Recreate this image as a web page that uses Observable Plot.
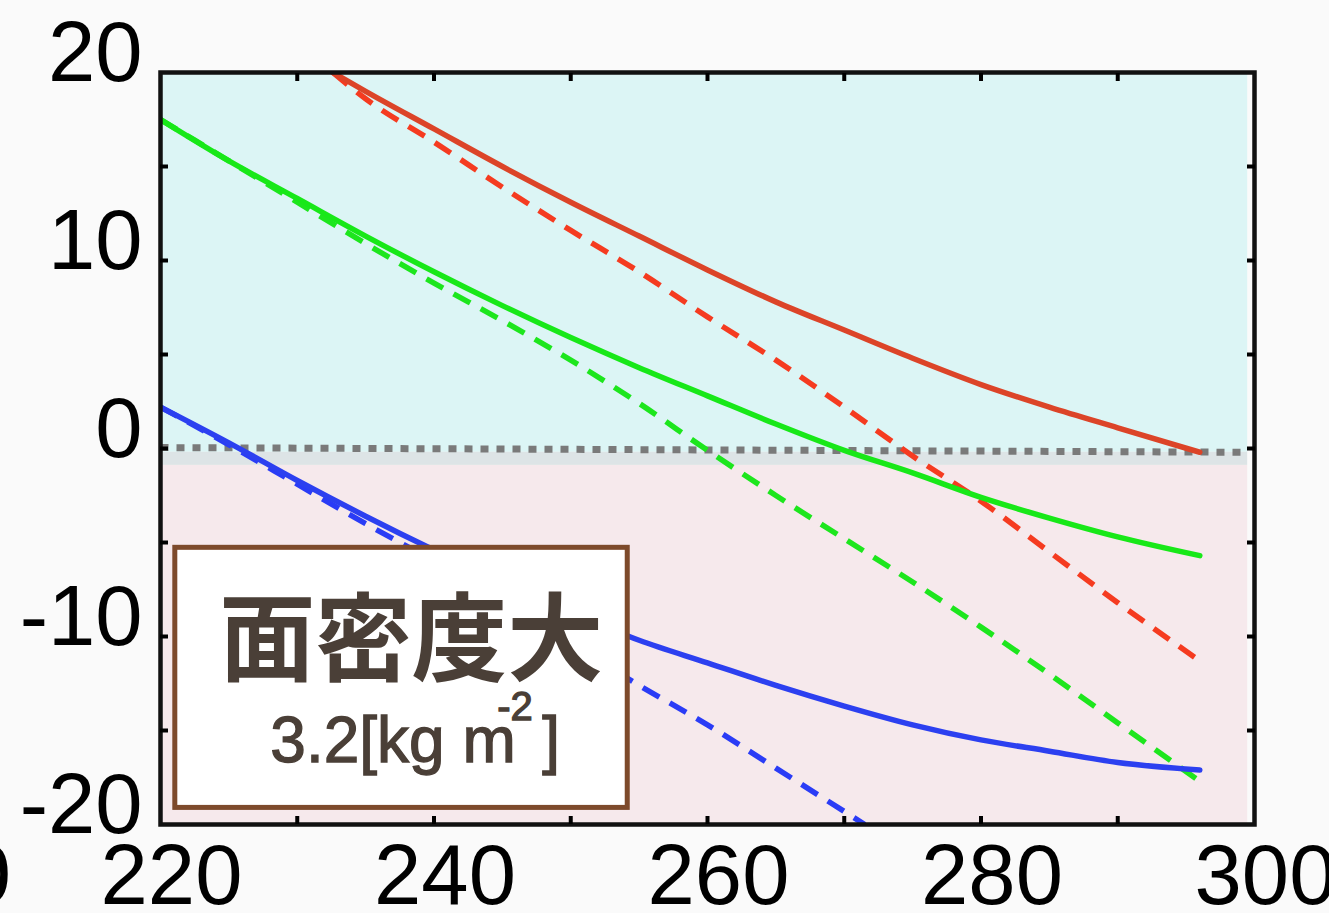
<!DOCTYPE html>
<html><head><meta charset="utf-8">
<script src="https://cdn.jsdelivr.net/npm/d3@7"></script>
<script src="https://cdn.jsdelivr.net/npm/@observablehq/plot@0.6"></script>
<style>
html,body{margin:0;padding:0;background:#fafafa;}
#chart{position:relative;width:1329px;height:913px;overflow:hidden;}
</style></head><body><div id="chart"></div>
<script>
// ---- ticks ----
const xLabelTicks = [220, 240, 260, 280, 300];
const xMinorTicks = [230, 240, 250, 260, 270, 280, 290];
const yLabelTicks = [-20, -10, 0, 10, 20];
const yMinorTicks = [-15, -10, -5, 0, 5, 10, 15];

// ---- background regions (y ranges) ----
const regionNames = ["positive", "overlap", "negative"];
const regionTop = [20, -0.2, -0.9];
const regionBottom = [-0.2, -0.9, -20];
const regionX = [220, 299.5];

// ---- zero reference (dotted) ----
const zeroX = [220, 299.5];
const zeroY = [0.05, -0.2];

// ---- series ----
const redSolidX = [232.6, 235, 240, 245, 250, 255, 260, 265, 270, 275, 280, 285, 290, 296];
const redSolidY = [20, 19.0, 17.0, 15.0, 13.1, 11.3, 9.5, 7.8, 6.3, 4.8, 3.4, 2.2, 1.1, -0.2];

const redDashX = [232.6, 235, 240, 245, 250, 255, 260, 265, 270, 275, 280, 285, 290, 296];
const redDashY = [20, 18.6, 16.3, 13.9, 11.6, 9.4, 7.0, 4.7, 2.2, -0.4, -2.8, -5.5, -8.2, -11.3];

const greenSolidX = [220, 225, 230, 235, 240, 245, 250, 255, 260, 265, 270, 275, 280, 285, 290, 296];
const greenSolidY = [17.5, 15.3, 13.3, 11.3, 9.4, 7.6, 5.9, 4.3, 2.8, 1.3, -0.1, -1.3, -2.6, -3.7, -4.7, -5.7];

const greenDashX = [220, 225, 230, 235, 240, 245, 250, 255, 260, 265, 270, 275, 280, 285, 290, 296];
const greenDashY = [17.5, 15.3, 13.1, 10.9, 8.8, 6.8, 4.7, 2.4, -0.1, -2.5, -4.8, -7.1, -9.5, -12.0, -14.6, -17.7];

const blueSolidX = [220, 225, 230, 235, 240, 245, 250, 255, 260, 265, 270, 275, 280, 285, 290, 296];
const blueSolidY = [2.2, 0.3, -1.7, -3.6, -5.4, -7.1, -8.7, -10.2, -11.4, -12.6, -13.7, -14.7, -15.5, -16.1, -16.7, -17.1];

const blueDashX = [220, 225, 230, 235, 240, 245, 250, 255, 260, 265, 271.5];
const blueDashY = [2.2, 0.2, -1.9, -4.0, -6.0, -8.2, -10.4, -12.6, -14.7, -17.0, -20];

// ---- annotation ----
const boxTitle = "面密度大";
const boxValue = "3.2[kg m";
const boxSup = "-2";
const boxClose = "]";
const boxX = [220.9, 254.35];
const boxY = [-5.15, -19.25];

const zip = (xs, ys) => xs.map((x, i) => ({x, y: ys[i]}));
const regions = regionNames.map((n, i) => ({name: n, x1: regionX[0], x2: regionX[1], y1: regionTop[i], y2: regionBottom[i]}));

const lineOpts = {x: "x", y: "y", strokeWidth: 5.5, clip: true, curve: "monotone-x"};
const dashOpts = {...lineOpts, strokeDasharray: "19,12", strokeLinecap: "butt"};

const plot = Plot.plot({
  width: 1329, height: 913,
  marginLeft: 160, marginRight: 75, marginTop: 72, marginBottom: 89,
  style: {background: "#fafafa", fontFamily: "'Liberation Sans', Arial, Helvetica, sans-serif", color: "#000", overflow: "hidden"},
  x: {domain: [220, 300], label: null},
  y: {domain: [-20, 20], label: null},
  marks: [
    Plot.rect(regions.filter(d => d.name === "positive"), {x1: "x1", x2: "x2", y1: "y1", y2: "y2", fill: "#dcf5f5"}),
    Plot.rect(regions.filter(d => d.name === "overlap"), {x1: "x1", x2: "x2", y1: "y1", y2: "y2", fill: "#dde4e6"}),
    Plot.rect(regions.filter(d => d.name === "negative"), {x1: "x1", x2: "x2", y1: "y1", y2: "y2", fill: "#f6e9ec"}),
    Plot.line(zip(zeroX, zeroY), {x: "x", y: "y", stroke: "#7a7a7a", strokeWidth: 7, strokeDasharray: "8,8", strokeLinecap: "butt"}),
    Plot.line(zip(redDashX, redDashY), {...dashOpts, stroke: "#f53b20"}),
    Plot.line(zip(redSolidX, redSolidY), {...lineOpts, stroke: "#dc4428"}),
    Plot.line(zip(greenDashX, greenDashY), {...dashOpts, stroke: "#1de61d"}),
    Plot.line(zip(greenSolidX, greenSolidY), {...lineOpts, stroke: "#18e818"}),
    Plot.line(zip(blueDashX, blueDashY), {...dashOpts, stroke: "#2a3cf6"}),
    Plot.line(zip(blueSolidX, blueSolidY), {...lineOpts, stroke: "#2c40f0"}),
    Plot.frame({stroke: "#111", strokeWidth: 4.5}),
    Plot.axisY(yMinorTicks, {anchor: "left", tickSize: 8, dx: 8, strokeWidth: 4, tickFormat: () => ""}),
    Plot.axisY(yMinorTicks, {anchor: "right", tickSize: 8, dx: -8, strokeWidth: 4, tickFormat: () => ""}),
    Plot.axisX(xMinorTicks, {anchor: "bottom", tickSize: 8, dy: -8, strokeWidth: 4, tickFormat: () => ""}),
    Plot.axisX(xMinorTicks, {anchor: "top", tickSize: 8, dy: 8, strokeWidth: 4, tickFormat: () => ""}),
    Plot.axisY(yLabelTicks, {anchor: "left", tickSize: 0, tickPadding: 18, dy: -19, fontSize: 85, tickFormat: d => String(d)}),
    Plot.axisX(xLabelTicks, {anchor: "bottom", tickSize: 0, tickPadding: 19, dx: 11, fontSize: 85, tickFormat: d => String(d)})
  ]
});

// annotation box drawn with the plot's own scales
const sx = plot.scale("x"), sy = plot.scale("y");
const L = sx.apply(boxX[0]), R = sx.apply(boxX[1]);
const T = sy.apply(boxY[0]), B = sy.apply(boxY[1]);
const bw = 5;
const g = d3.select(plot).append("g");
g.append("rect")
  .attr("x", L + bw / 2).attr("y", T + bw / 2)
  .attr("width", R - L - bw).attr("height", B - T - bw)
  .attr("fill", "#ffffff").attr("stroke", "#7d4a2b").attr("stroke-width", bw);
g.append("text")
  .attr("x", L + 239).attr("y", T + 87)
  .attr("text-anchor", "middle").attr("dominant-baseline", "central")
  .attr("font-family", "'Noto Sans CJK JP', 'Noto Sans CJK SC', sans-serif")
  .attr("font-weight", 700).attr("font-size", 96).attr("fill", "#4a3f37")
  .text(boxTitle);
const t2 = g.append("text")
  .attr("text-anchor", "start")
  .attr("font-family", "'Liberation Sans', Arial, Helvetica, sans-serif")
  .attr("fill", "#4a3f37").attr("stroke", "#4a3f37").attr("stroke-width", 1.3);
t2.append("tspan").attr("x", L + 98).attr("y", T + 217).attr("font-size", 64).text(boxValue);
t2.append("tspan").attr("x", L + 325).attr("y", T + 175).attr("font-size", 40).text(boxSup);
t2.append("tspan").attr("x", L + 370).attr("y", T + 217).attr("font-size", 64).text(boxClose);

// fragment of neighbouring panel's tick label at the far left
d3.select(plot).append("text")
  .attr("x", 11).attr("y", 903).attr("text-anchor", "end")
  .attr("font-family", "'Liberation Sans', Arial, Helvetica, sans-serif")
  .attr("font-size", 85).attr("fill", "#000").text("0");

document.getElementById("chart").appendChild(plot);
</script></body></html>
